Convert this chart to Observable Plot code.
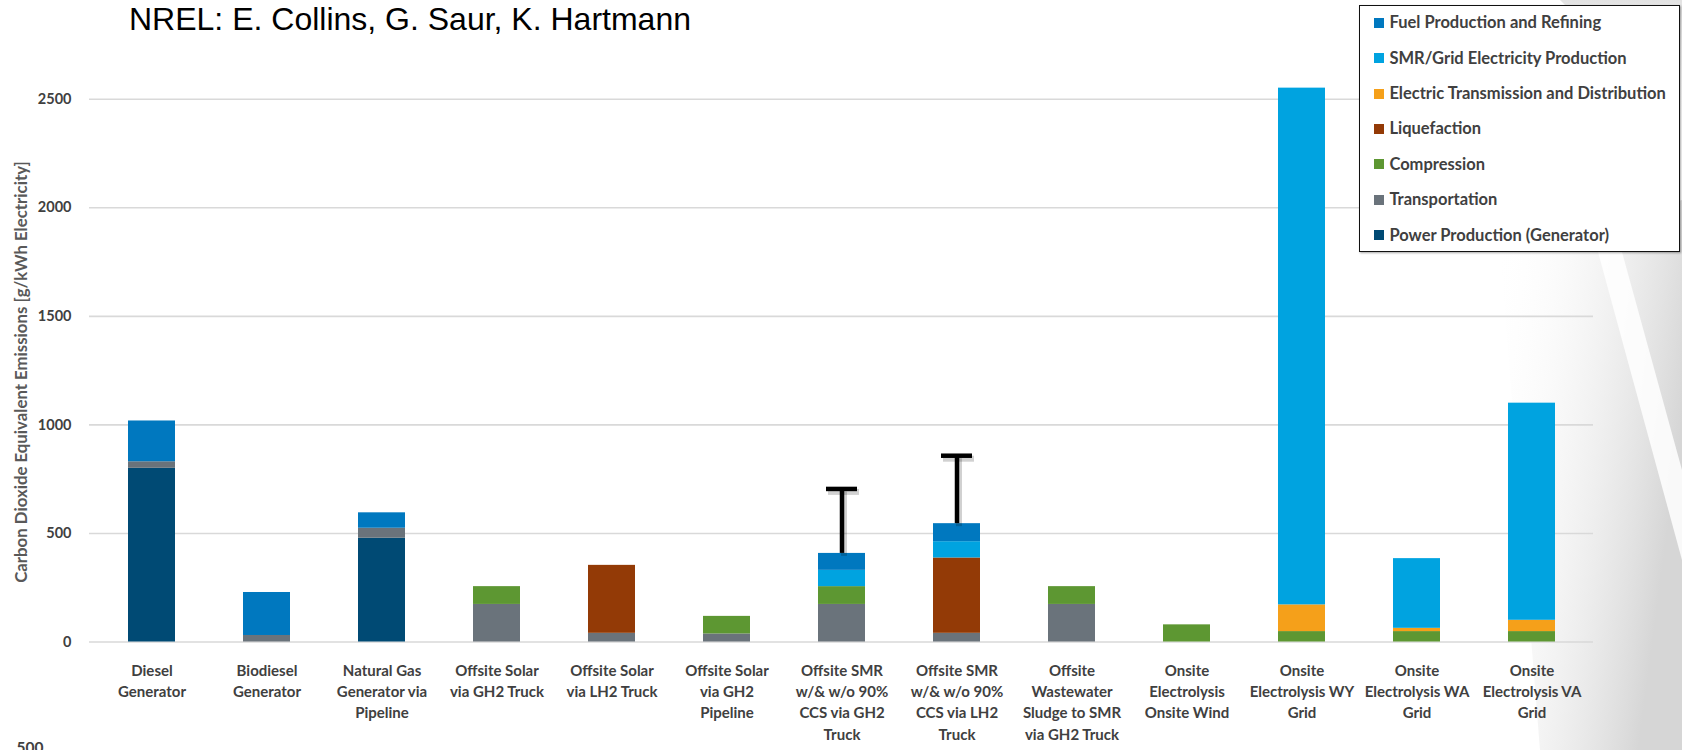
<!DOCTYPE html>
<html>
<head>
<meta charset="utf-8">
<script src="https://cdn.jsdelivr.net/npm/d3@7"></script>
<script src="https://cdn.jsdelivr.net/npm/@observablehq/plot@0.6"></script>
<style>
  html, body { margin: 0; padding: 0; background: #fff; }
  #wrap { position: relative; width: 1682px; height: 750px; overflow: hidden; background: #fff; }
  #bg { position: absolute; left: 0; top: 0; z-index: 0; }
  #chart { position: absolute; left: 0; top: 0; z-index: 1; }
  #title { position: absolute; left: 129px; top: 2.9px; z-index: 2; font-family: "Liberation Sans", Arial, sans-serif; font-size: 32px; line-height: 1; color: #000; white-space: nowrap; }
  #ylabel { position: absolute; left: 21px; top: 371.5px; z-index: 2; transform: translate(-50%, -50%) rotate(-90deg); font-family: Lato, sans-serif; font-weight: 700; font-size: 16.8px; line-height: 18px; color: #595959; white-space: nowrap; }
  #legend { position: absolute; left: 1359px; top: 5px; width: 321px; height: 247px; box-sizing: border-box; border: 1.6px solid #111; background: #fff; z-index: 2; box-shadow: 1px 1px 2px rgba(0,0,0,0.35); font-family: Lato, sans-serif; }
  .lg-sw { position: absolute; width: 10px; height: 10px; }
  .lg-tx { position: absolute; font-weight: 700; font-size: 16.5px; line-height: 20px; color: #404040; white-space: nowrap; }
</style>
</head>
<body>
<div id="wrap">
  <svg id="bg" width="1682" height="750">
    <defs>
      <linearGradient id="g1" x1="0" y1="0" x2="1" y2="0.4">
        <stop offset="0" stop-color="#ffffff" stop-opacity="0"/>
        <stop offset="1" stop-color="#d6d6d6" stop-opacity="1"/>
      </linearGradient>
      <linearGradient id="g2" x1="0" y1="0" x2="0" y2="1">
        <stop offset="0" stop-color="#e2e2e2" stop-opacity="1"/>
        <stop offset="1" stop-color="#ffffff" stop-opacity="0"/>
      </linearGradient>
    </defs>
    <polygon points="1500,250 1682,200 1682,750 1540,750" fill="url(#g1)"/>
    <polygon points="1560,0 1682,0 1682,120 1600,40" fill="url(#g2)"/>
    <polygon points="1598,252 1622,252 1682,470 1682,560" fill="#ffffff" opacity="0.85"/>
  </svg>
  <div id="chart"></div>
  <div id="title">NREL: E. Collins, G. Saur, K. Hartmann</div>
  <div id="ylabel"></div>
  <div id="legend"></div>
</div>
<script>
// ---- Data ----
const categories = [
  "Diesel\nGenerator",
  "Biodiesel\nGenerator",
  "Natural Gas\nGenerator via\nPipeline",
  "Offsite Solar\nvia GH2 Truck",
  "Offsite Solar\nvia LH2 Truck",
  "Offsite Solar\nvia GH2\nPipeline",
  "Offsite SMR\nw/& w/o 90%\nCCS via GH2\nTruck",
  "Offsite SMR\nw/& w/o 90%\nCCS via LH2\nTruck",
  "Offsite\nWastewater\nSludge to SMR\nvia GH2 Truck",
  "Onsite\nElectrolysis\nOnsite Wind",
  "Onsite\nElectrolysis WY\nGrid",
  "Onsite\nElectrolysis WA\nGrid",
  "Onsite\nElectrolysis VA\nGrid"
];

// stacked bottom -> top
const seriesNames = [
  "Power Production (Generator)",
  "Transportation",
  "Compression",
  "Liquefaction",
  "Electric Transmission and Distribution",
  "SMR/Grid Electricity Production",
  "Fuel Production and Refining"
];
const seriesColors = ["#004A74", "#6A737B", "#5D9732", "#933A06", "#F5A01A", "#00A3E0", "#0078BF"];

const powerProduction = [800, 0, 478, 0, 0, 0, 0, 0, 0, 0, 0, 0, 0];
const transportation  = [30, 30, 46, 173, 40, 37, 173, 40, 173, 0, 0, 0, 0];
const compression     = [0, 0, 0, 82, 0, 81, 82, 0, 82, 79, 48, 48, 48];
const liquefaction    = [0, 0, 0, 0, 313, 0, 0, 347, 0, 0, 0, 0, 0];
const transmission    = [0, 0, 0, 0, 0, 0, 0, 0, 0, 0, 123, 15, 52];
const smrGrid         = [0, 0, 0, 0, 0, 0, 75, 75, 0, 0, 2380, 321, 1000];
const fuelProduction  = [188, 198, 71, 0, 0, 0, 78, 83, 0, 0, 0, 0, 0];
const errorHigh       = [null, null, null, null, null, null, 705, 858, null, null, null, null, null];

const yTicks = [0, 500, 1000, 1500, 2000, 2500];
const yLabel = "Carbon Dioxide Equivalent Emissions [g/kWh Electricity]";
const strayLabel = "500";

// ---- Build tidy table ----
const seriesValues = [powerProduction, transportation, compression, liquefaction, transmission, smrGrid, fuelProduction];
const rows = [];
seriesNames.forEach((s, si) => {
  categories.forEach((c, ci) => {
    const v = seriesValues[si][ci];
    if (v > 0) rows.push({category: c, series: s, value: v});
  });
});
const totals = categories.map((c, ci) => d3.sum(seriesValues, arr => arr[ci]));
const errData = categories
  .map((c, i) => ({category: c, low: totals[i], high: errorHigh[i]}))
  .filter(d => d.high != null);

const chart = Plot.plot({
  width: 1682,
  height: 750,
  marginLeft: 89,
  marginRight: 89,
  marginTop: 77,
  marginBottom: 108.5,
  style: {fontFamily: "Lato, sans-serif", background: "transparent", overflow: "visible"},
  x: {domain: categories, paddingInner: 0.594, paddingOuter: 0.29, axis: null},
  y: {domain: [0, 2600], axis: null},
  color: {domain: seriesNames, range: seriesColors},
  marks: [
    Plot.gridY(yTicks, {stroke: "#d9d9d9", strokeOpacity: 1, strokeWidth: 1.6}),
    Plot.axisY(yTicks, {tickSize: 0, tickPadding: 18, tickFormat: d3.format("d"), fontSize: 14.5, fontWeight: 700, fill: "#404040", label: null}),
    Plot.barY(rows, {x: "category", y: "value", fill: "series"}),
    // error bar shadows
    Plot.ruleX(errData, {x: "category", y1: "low", y2: "high", stroke: "#000", strokeOpacity: 0.18, strokeWidth: 6, dx: 2, dy: 3}),
    Plot.tickY(errData, {x: "category", y: "high", stroke: "#000", strokeOpacity: 0.18, strokeWidth: 6, insetLeft: 8, insetRight: 8, dx: 2, dy: 3}),
    // error bars
    Plot.ruleX(errData, {x: "category", y1: "low", y2: "high", stroke: "#000", strokeWidth: 4.5}),
    Plot.tickY(errData, {x: "category", y: "high", stroke: "#000", strokeWidth: 4.5, insetLeft: 8, insetRight: 8}),
    // x category labels
    Plot.text(categories, {x: d => d, text: d => d, frameAnchor: "bottom", dy: 18.5, lineAnchor: "top", lineHeight: 1.42, fontSize: 15, fontWeight: 700, fill: "#404040"}),
    // stray clipped tick label at bottom-left (as in the source slide)
    Plot.text([strayLabel], {frameAnchor: "bottom-left", textAnchor: "end", lineAnchor: "top", dx: -46, dy: 100, fontSize: 15.5, fontWeight: 700, fill: "#404040"})
  ]
});
document.getElementById("chart").appendChild(chart);
document.getElementById("ylabel").textContent = yLabel;

// ---- Legend (top to bottom = reverse stacking order) ----
const legend = document.getElementById("legend");
const legendOrder = seriesNames.map((s, i) => i).reverse();
legendOrder.forEach((si, k) => {
  const cy = 23.3 + k * 35.4 - 5 - 1.6; // relative to legend box interior
  const sw = document.createElement("div");
  sw.className = "lg-sw";
  sw.style.left = (1375 - 1359 - 1.6) + "px";
  sw.style.top = (cy - 5) + "px";
  sw.style.background = seriesColors[si];
  legend.appendChild(sw);
  const tx = document.createElement("div");
  tx.className = "lg-tx";
  tx.style.left = (1390 - 1359 - 1.6) + "px";
  tx.style.top = (cy - 10.5) + "px";
  tx.textContent = seriesNames[si];
  legend.appendChild(tx);
});
</script>
</body>
</html>
